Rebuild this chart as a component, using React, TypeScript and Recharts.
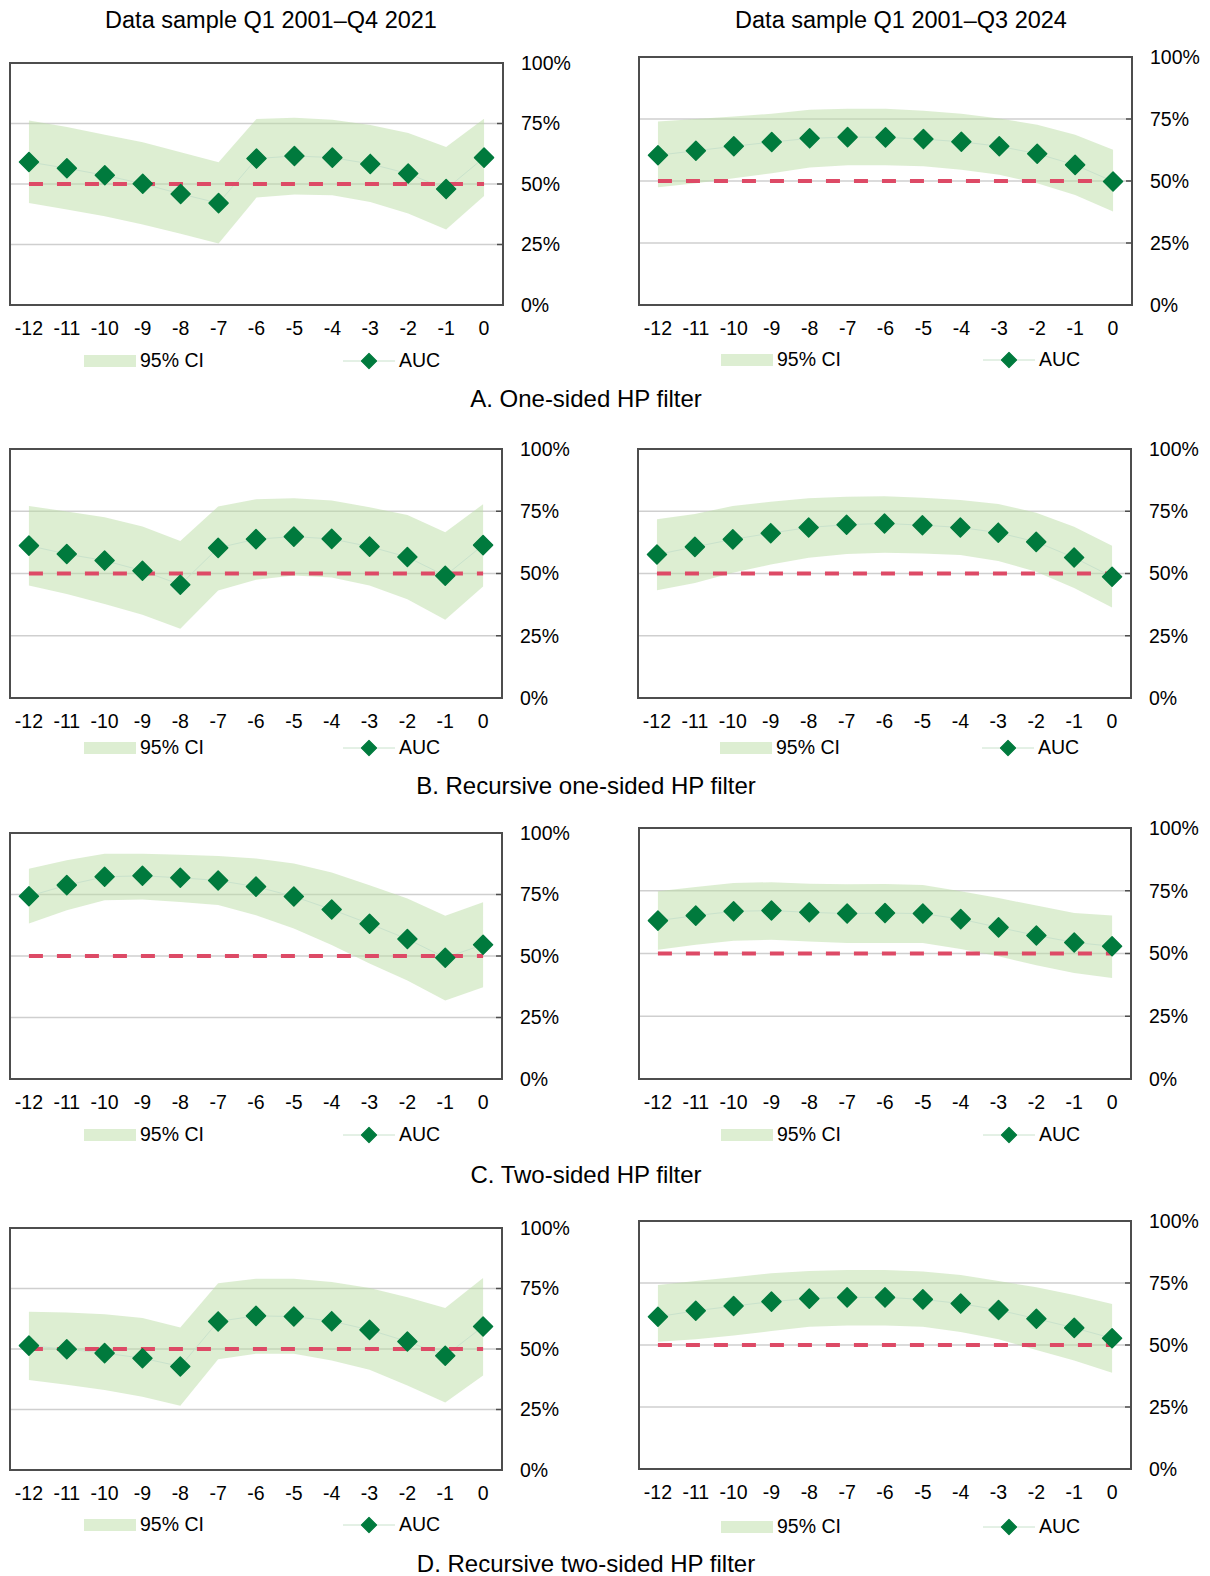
import React from 'react'
import { ComposedChart, Area, Line, XAxis, YAxis, CartesianGrid, ReferenceLine, ReferenceArea } from 'recharts'

// quarters before the crisis, shared by every panel
const categories = [-12, -11, -10, -9, -8, -7, -6, -5, -4, -3, -2, -1, 0]
const yTicks = [0, 25, 50, 75, 100]
const THRESHOLD = 50

const colTitles = ['Data sample Q1 2001–Q4 2021', 'Data sample Q1 2001–Q3 2024']
const rowTitles = [
  'A. One-sided HP filter',
  'B. Recursive one-sided HP filter',
  'C. Two-sided HP filter',
  'D. Recursive two-sided HP filter',
]

// A. One-sided HP filter
const aucA1 = [59.1, 56.5, 53.6, 50.1, 45.9, 42.1, 60.5, 61.6, 60.9, 58.3, 54.3, 47.9, 60.9]
const hiA1 = [76.2, 73.6, 70.4, 67.3, 63.1, 59.0, 76.9, 77.4, 76.6, 74.4, 71.1, 65.3, 77.0]
const loA1 = [42.2, 39.5, 36.7, 33.3, 29.4, 25.4, 44.4, 45.7, 45.4, 42.6, 37.8, 31.2, 45.0]
const aucA2 = [60.4, 62.2, 64.0, 65.7, 67.2, 67.7, 67.6, 66.9, 65.8, 64.0, 61.0, 56.5, 49.8]
const hiA2 = [74.0, 75.0, 76.0, 77.1, 78.7, 79.1, 79.1, 78.3, 77.1, 75.2, 72.7, 68.6, 62.6]
const loA2 = [47.5, 49.1, 51.1, 53.1, 55.4, 56.4, 56.4, 55.9, 54.5, 52.5, 49.1, 44.4, 37.7]

// B. Recursive one-sided HP filter
const aucB1 = [61.2, 57.8, 55.2, 51.1, 45.5, 60.3, 63.8, 64.8, 63.9, 60.8, 56.6, 49.1, 61.4]
const hiB1 = [77.1, 74.9, 72.6, 68.9, 63.1, 76.9, 79.8, 80.2, 79.3, 76.6, 73.5, 66.6, 77.8]
const loB1 = [45.2, 41.8, 37.8, 33.4, 27.8, 43.2, 47.5, 49.2, 48.4, 45.2, 39.7, 31.4, 44.8]
const aucB2 = [57.6, 60.7, 63.7, 66.2, 68.5, 69.6, 70.1, 69.4, 68.5, 66.4, 62.7, 56.4, 48.7]
const hiB2 = [71.8, 73.9, 77.1, 78.8, 80.2, 80.8, 81.0, 80.4, 79.5, 77.9, 74.4, 68.8, 61.1]
const loB2 = [43.3, 46.2, 50.3, 53.6, 56.3, 57.8, 58.3, 58.0, 57.4, 55.0, 50.7, 44.2, 36.3]

// C. Two-sided HP filter
const aucC1 = [74.3, 78.8, 82.2, 82.6, 81.8, 80.7, 78.2, 74.2, 68.9, 63.1, 56.9, 49.3, 54.6]
const hiC1 = [85.5, 88.9, 91.6, 91.6, 91.2, 90.7, 89.6, 87.6, 83.9, 78.8, 73.4, 66.4, 71.9]
const loC1 = [63.2, 68.6, 72.7, 73.0, 72.0, 70.7, 66.6, 61.2, 54.5, 47.0, 40.0, 31.9, 37.3]
const aucC2 = [63.1, 65.1, 66.8, 67.1, 66.4, 65.9, 66.1, 65.9, 63.7, 60.4, 57.2, 54.4, 52.9]
const hiC2 = [74.8, 76.5, 78.1, 78.4, 77.8, 77.6, 77.7, 77.3, 74.8, 72.1, 69.1, 66.1, 65.1]
const loC2 = [51.5, 53.5, 55.1, 55.5, 54.8, 54.2, 54.2, 54.2, 51.8, 48.9, 45.3, 42.2, 40.2]

// D. Recursive two-sided HP filter
const aucD1 = [51.4, 49.9, 48.3, 46.2, 42.8, 61.4, 63.7, 63.4, 61.5, 57.9, 53.1, 47.2, 59.3]
const hiD1 = [65.4, 65.1, 64.4, 62.8, 58.9, 77.2, 79.0, 79.0, 77.7, 75.2, 71.4, 66.9, 79.3]
const loD1 = [37.2, 35.2, 33.1, 30.3, 26.6, 45.8, 48.0, 48.0, 45.2, 41.4, 34.9, 27.9, 39.0]
const aucD2 = [61.4, 63.8, 65.7, 67.5, 68.7, 69.2, 69.2, 68.4, 66.7, 64.1, 60.6, 56.9, 52.7]
const hiD2 = [74.2, 75.8, 77.3, 78.9, 79.8, 80.2, 80.2, 79.6, 78.2, 75.8, 73.3, 70.2, 66.5]
const loD2 = [51.3, 52.3, 53.8, 55.6, 57.4, 57.9, 57.9, 57.4, 55.2, 52.3, 48.0, 43.7, 38.8]

const FONT = '"Liberation Sans", Arial, Helvetica, sans-serif'
const CI_FILL = '#bbdda6'
const AUC_GREEN = '#007a3d'
const AUC_LINE = '#c9e2cc'
const THRESH_RED = '#dd4a66'
const FRAME = '#4d4d4d'
const GRID = '#cfcfcf'
const TICK_FS = 19.5

const xDomain: [number, number] = [categories[0] - 0.5, categories[categories.length - 1] + 0.5]
const boundaryTicks = categories.slice(1).map((c) => c - 0.5)

// plot boxes [left, top, right, bottom] and legend row centre
const panels = [
  { box: [10, 63, 503, 305], legY: 361, col: 0, auc: aucA1, lo: loA1, hi: hiA1 },
  { box: [639, 57, 1132, 305], legY: 360, col: 1, auc: aucA2, lo: loA2, hi: hiA2 },
  { box: [10, 449, 502, 698], legY: 748, col: 0, auc: aucB1, lo: loB1, hi: hiB1 },
  { box: [638, 449, 1131, 698], legY: 748, col: 1, auc: aucB2, lo: loB2, hi: hiB2 },
  { box: [10, 833, 502, 1079], legY: 1135, col: 0, auc: aucC1, lo: loC1, hi: hiC1 },
  { box: [639, 828, 1131, 1079], legY: 1135, col: 1, auc: aucC2, lo: loC2, hi: hiC2 },
  { box: [10, 1228, 502, 1470], legY: 1525, col: 0, auc: aucD1, lo: loD1, hi: hiD1 },
  { box: [639, 1221, 1131, 1469], legY: 1527, col: 1, auc: aucD2, lo: loD2, hi: hiD2 },
]
const rowTitleY = [399, 786, 1175, 1564]

// legend offsets from plot left, per column
const legendOffsets = [
  { rect: 74, ciText: 130, line: 333, aucText: 389 },
  { rect: 82, ciText: 138, line: 344, aucText: 400 },
]

function renderDiamond(props: any) {
  const { cx, cy, index } = props
  if (cx == null || cy == null) return null
  const s = 9.5
  return (
    <path
      key={`dm-${index}`}
      d={`M${cx},${cy - s}L${cx + s},${cy}L${cx},${cy + s}L${cx - s},${cy}Z`}
      fill={AUC_GREEN}
      stroke={AUC_GREEN}
      strokeWidth={1.5}
      strokeLinejoin="round"
    />
  )
}

function Legend({ x0, y, col }: { x0: number; y: number; col: number }) {
  const o = legendOffsets[col]
  const txt: React.CSSProperties = {
    position: 'absolute', top: y, transform: 'translateY(-50%)', fontSize: TICK_FS,
    lineHeight: 1, fontFamily: FONT, color: '#000', whiteSpace: 'nowrap',
  }
  return (
    <>
      <div style={{ position: 'absolute', left: x0 + o.rect, top: y - 6, width: 52, height: 12, background: CI_FILL, opacity: 0.5 }} />
      <div style={{ ...txt, left: x0 + o.ciText }}>95% CI</div>
      <svg style={{ position: 'absolute', left: x0 + o.line, top: y - 10 }} width={52} height={20}>
        <line x1={0} y1={10} x2={52} y2={10} stroke={AUC_LINE} strokeWidth={1} />
        <path d="M26,2.5L33.5,10L26,17.5L18.5,10Z" fill={AUC_GREEN} stroke={AUC_GREEN} strokeWidth={1.2} strokeLinejoin="round" />
      </svg>
      <div style={{ ...txt, left: x0 + o.aucText }}>AUC</div>
    </>
  )
}

function Panel({ box, auc, lo, hi }: { box: number[]; auc: number[]; lo: number[]; hi: number[] }) {
  const [L, T, R, B] = box
  const mT = 14
  const mL = 2
  const yW = 70
  const xH = 40
  const data = categories.map((x, i) => ({ x, auc: auc[i], ci: [lo[i], hi[i]] }))
  const tickStyle = { fill: '#000', fontSize: TICK_FS, fontFamily: FONT }
  return (
    <div style={{ position: 'absolute', left: L - mL, top: T - mT }}>
      <ComposedChart
        width={mL + (R - L) + yW}
        height={mT + (B - T) + 1 + xH}
        data={data}
        margin={{ top: mT, left: mL, right: 0, bottom: 0 }}
        style={{ fontFamily: FONT }}
      >
        <XAxis
          xAxisId="tk"
          dataKey="x"
          type="number"
          domain={xDomain}
          ticks={boundaryTicks}
          interval={0}
          tick={false}
          tickSize={-7}
          tickLine={{ stroke: FRAME, strokeWidth: 1.5 }}
          axisLine={false}
          height={1}
        />
        <XAxis
          dataKey="x"
          type="number"
          domain={xDomain}
          ticks={categories}
          interval={0}
          tick={tickStyle}
          tickLine={false}
          tickSize={0}
          tickMargin={16}
          axisLine={false}
          height={xH}
        />
        <YAxis
          orientation="right"
          type="number"
          domain={[0, 100]}
          ticks={yTicks}
          interval={0}
          tickFormatter={(v) => `${v}%`}
          tick={tickStyle}
          tickSize={-6}
          tickMargin={24}
          tickLine={{ stroke: FRAME, strokeWidth: 1.5 }}
          axisLine={false}
          width={yW}
        />
        <CartesianGrid vertical={false} stroke={GRID} strokeWidth={1.5} />
        <Area
          dataKey="ci"
          type="linear"
          stroke="none"
          fill={CI_FILL}
          fillOpacity={0.5}
          isAnimationActive={false}
          dot={false}
          activeDot={false}
        />
        <Line
          dataKey="auc"
          type="linear"
          stroke={AUC_LINE}
          strokeWidth={1}
          dot={renderDiamond}
          activeDot={false}
          isAnimationActive={false}
        />
        <ReferenceLine
          segment={[{ x: categories[0], y: THRESHOLD }, { x: categories[categories.length - 1], y: THRESHOLD }]}
          stroke={THRESH_RED}
          strokeWidth={4}
          strokeDasharray="14 14"
        />
        <ReferenceArea x1={xDomain[0]} x2={xDomain[1]} y1={0} y2={100} fill="none" stroke={FRAME} strokeWidth={2} />
      </ComposedChart>
    </div>
  )
}

export default function App() {
  const title: React.CSSProperties = {
    position: 'absolute', transform: 'translate(-50%, -50%)', fontSize: 23.5, lineHeight: 1,
    fontFamily: FONT, color: '#000', whiteSpace: 'nowrap',
  }
  return (
    <div style={{ position: 'absolute', left: 0, top: 0, width: 1210, height: 1576, background: '#fff', overflow: 'hidden' }}>
      <div style={{ ...title, left: 271, top: 21 }}>{colTitles[0]}</div>
      <div style={{ ...title, left: 901, top: 21 }}>{colTitles[1]}</div>
      {panels.map((p, i) => (
        <React.Fragment key={i}>
          <Panel box={p.box} auc={p.auc} lo={p.lo} hi={p.hi} />
          <Legend x0={p.box[0]} y={p.legY} col={p.col} />
        </React.Fragment>
      ))}
      {rowTitles.map((t, i) => (
        <div key={t} style={{ ...title, left: 586, top: rowTitleY[i], fontSize: 24 }}>{t}</div>
      ))}
    </div>
  )
}
